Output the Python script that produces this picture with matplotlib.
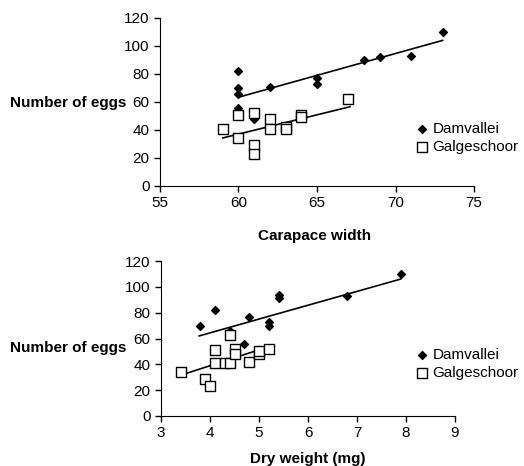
import numpy as np
import matplotlib
matplotlib.use("Agg")
import matplotlib.pyplot as plt

plt.rcParams["font.family"] = ["Liberation Sans", "DejaVu Sans"]
plt.rcParams["font.size"] = 11

# carapace width vs number of eggs
cw_dam = [60, 60, 60, 60, 61, 62, 65, 65, 68, 69, 71, 73]
eggs_cw_dam = [82, 70, 66, 56, 48, 71, 77, 73, 90, 92, 93, 110]
cw_gal = [59, 60, 60, 61, 61, 61, 62, 62, 63, 63, 64, 64, 67]
eggs_cw_gal = [41, 51, 34, 52, 29, 23, 48, 41, 42, 41, 51, 49, 62]
trend_cw_dam_x = [60, 73]
trend_cw_dam_y = [63.4, 104]
trend_cw_gal_x = [59, 67.1]
trend_cw_gal_y = [34.3, 56.6]

# dry weight vs number of eggs
dw_dam = [3.8, 4.1, 4.4, 4.7, 4.8, 5.0, 5.2, 5.2, 5.4, 5.4, 6.8, 7.9]
eggs_dw_dam = [70, 82, 66, 56, 77, 48, 73, 70, 94, 91, 93, 110]
dw_gal = [3.4, 3.9, 4.0, 4.1, 4.1, 4.3, 4.4, 4.4, 4.5, 4.5, 4.8, 5.0, 5.0, 5.2]
eggs_dw_gal = [34, 29, 23, 51, 41, 41, 41, 63, 52, 48, 42, 48, 50, 52]
trend_dw_dam_x = [3.78, 7.89]
trend_dw_dam_y = [62, 106]
trend_dw_gal_x = [3.42, 5.16]
trend_dw_gal_y = [31.8, 53.2]

fig = plt.figure(figsize=(5.24, 4.66), dpi=100)
ax1 = fig.add_axes([0.3053, 0.6009, 0.5993, 0.3605])
ax2 = fig.add_axes([0.3073, 0.1073, 0.5610, 0.3326])


def style(ax):
    for s in ["top", "right"]:
        ax.spines[s].set_visible(False)
    ax.tick_params(direction="out", length=4, width=1, labelsize=11)
    ax.set_ylim(0, 120)
    ax.set_yticks(np.arange(0, 121, 20))


def draw(ax, xd, yd, xg, yg, tdx, tdy, tgx, tgy):
    ax.scatter(xd, yd, marker="D", s=16, color="black", label="Damvallei", zorder=3)
    ax.scatter(xg, yg, marker="s", s=62, facecolor="white", edgecolor="black",
               linewidth=1, label="Galgeschoor", zorder=3)
    ax.plot(tdx, tdy, color="black", lw=1.2, zorder=2)
    ax.plot(tgx, tgy, color="black", lw=1.2, zorder=2)


draw(ax1, cw_dam, eggs_cw_dam, cw_gal, eggs_cw_gal,
     trend_cw_dam_x, trend_cw_dam_y, trend_cw_gal_x, trend_cw_gal_y)
style(ax1)
ax1.set_xlim(55, 75)
ax1.set_xticks([55, 60, 65, 70, 75])

draw(ax2, dw_dam, eggs_dw_dam, dw_gal, eggs_dw_gal,
     trend_dw_dam_x, trend_dw_dam_y, trend_dw_gal_x, trend_dw_gal_y)
style(ax2)
ax2.set_xlim(3, 9)
ax2.set_xticks(range(3, 10))

fig.text(10 / 524, 1 - 103 / 466, "Number of eggs", fontweight="bold", va="center", ha="left")
fig.text(10 / 524, 1 - 348 / 466, "Number of eggs", fontweight="bold", va="center", ha="left")
fig.text(315 / 524, 1 - 236 / 466, "Carapace width", fontweight="bold", va="center", ha="center")
fig.text(308 / 524, 1 - 459 / 466, "Dry weight (mg)", fontweight="bold", va="center", ha="center")

for ax, ytop in [(ax1, 122), (ax2, 348)]:
    ax.legend(loc="upper left", bbox_to_anchor=(417 / 524, 1 - ytop / 466),
              bbox_transform=fig.transFigure, frameon=False, handlelength=0.7,
              handletextpad=0.3, borderpad=0, borderaxespad=0, labelspacing=0.25,
              fontsize=11)

fig.savefig("out.png", dpi=100)
